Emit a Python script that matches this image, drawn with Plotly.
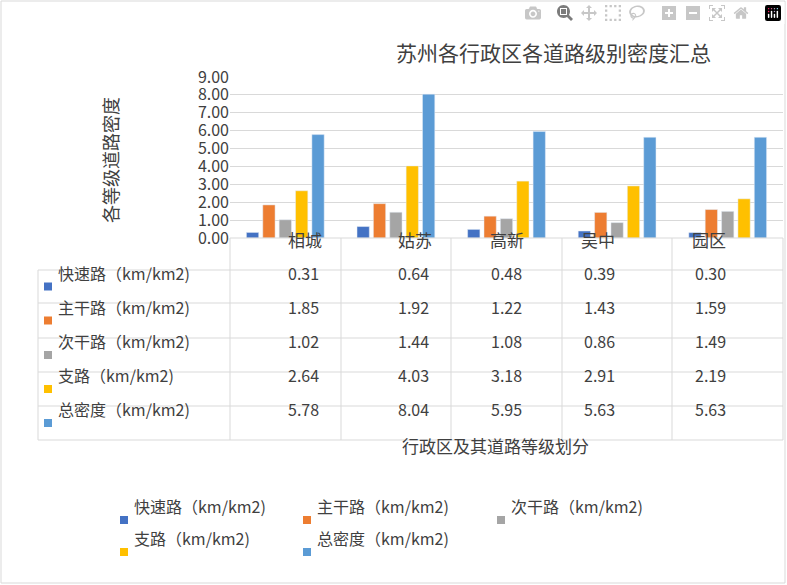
import plotly.graph_objects as go

categories = ["相城", "姑苏", "高新", "吴中", "园区"]
series_names = ["快速路（km/km2)", "主干路（km/km2)", "次干路（km/km2)", "支路（km/km2)", "总密度（km/km2)"]
kuaisu = [0.31, 0.64, 0.48, 0.39, 0.30]
zhugan = [1.85, 1.92, 1.22, 1.43, 1.59]
cigan = [1.02, 1.44, 1.08, 0.86, 1.49]
zhilu = [2.64, 4.03, 3.18, 2.91, 2.19]
zong = [5.78, 8.04, 5.95, 5.63, 5.63]
series_values = [kuaisu, zhugan, cigan, zhilu, zong]
colors = ["#4472C4", "#ED7D31", "#A5A5A5", "#FFC000", "#5B9BD5"]
yticks = [0, 1, 2, 3, 4, 5, 6, 7, 8, 9]

W, H = 787, 585
L, R, T, B = 230, 783, 77, 238
FONT = "Microsoft YaHei, Noto Sans CJK SC, sans-serif"

def px(x): return (x - L) / (R - L)
def py(y): return (B - y) / (B - T)

fig = go.Figure()
for name, vals, c in zip(series_names, series_values, colors):
    fig.add_trace(go.Bar(x=categories, y=vals, name=name, marker_color=c, showlegend=False))

shapes, ann = [], []
line = dict(color="#D9D9D9", width=1)
rows_y = [238, 270, 303, 338, 372, 406, 440]
cols_x = [230, 341, 451, 562, 672, 783]
for y in rows_y:
    x0 = 38 if y >= 270 else 230
    shapes.append(dict(type="line", xref="paper", yref="paper", x0=px(x0), x1=px(783), y0=py(y), y1=py(y), line=line))
for x in cols_x:
    shapes.append(dict(type="line", xref="paper", yref="paper", x0=px(x), x1=px(x), y0=py(238), y1=py(440), line=line))
shapes.append(dict(type="line", xref="paper", yref="paper", x0=px(38), x1=px(38), y0=py(270), y1=py(440), line=line))
shapes.append(dict(type="rect", xref="paper", yref="paper", x0=px(1), x1=px(785), y0=py(1), y1=py(583), line=line))

def A(x, y, text, size=16, **kw):
    d = dict(xref="paper", yref="paper", x=px(x), y=py(y), text=text, showarrow=False,
             font=dict(size=size, color="#404040"))
    d.update(kw)
    ann.append(d)

for i, cat in enumerate(categories):
    A((cols_x[i] + cols_x[i + 1]) / 2, 254, cat, 17)
for r, (name, vals, c) in enumerate(zip(series_names, series_values, colors)):
    cy = (rows_y[r + 1] + rows_y[r + 2]) / 2
    shapes.append(dict(type="rect", xref="paper", yref="paper", x0=px(44), x1=px(52), y0=py(cy + 4), y1=py(cy - 4), fillcolor=c, line=dict(width=0)))
    A(56, cy, name, 16, xanchor="left")
    for i, v in enumerate(vals):
        A((cols_x[i] + cols_x[i + 1]) / 2, cy, f"{v:.2f}", 16)

leg_pos = [(120, 520), (303, 520), (497, 520), (120, 552), (303, 552)]
for (lx, ly), name, c in zip(leg_pos, series_names, colors):
    shapes.append(dict(type="rect", xref="paper", yref="paper", x0=px(lx), x1=px(lx + 8), y0=py(ly + 4), y1=py(ly - 4), fillcolor=c, line=dict(width=0)))
    A(lx + 12, ly, name, 16, xanchor="left")

A(393.5, 35, "苏州各行政区各道路级别密度汇总", 21)
A(495, 460, "行政区及其道路等级划分", 17)
A(95, 160, "各等级道路密度", 18, textangle=-90)

fig.update_layout(
    width=W, height=H, margin=dict(l=L, r=W - R, t=T, b=H - B),
    paper_bgcolor="white", plot_bgcolor="white", font=dict(family=FONT),
    barmode="group", bargap=0.26, bargroupgap=0.25,
    shapes=shapes, annotations=ann,
    xaxis=dict(showticklabels=False, showline=False, ticks=""),
    yaxis=dict(range=[0, 9], tickvals=yticks, tickformat=".2f", showgrid=True, gridcolor="#D9D9D9",
               zeroline=False, tickfont=dict(size=16, color="#404040"), ticks=""),
)
fig.write_html("out.html", post_script="document.body.style.margin='0';document.body.style.overflow='hidden';")
